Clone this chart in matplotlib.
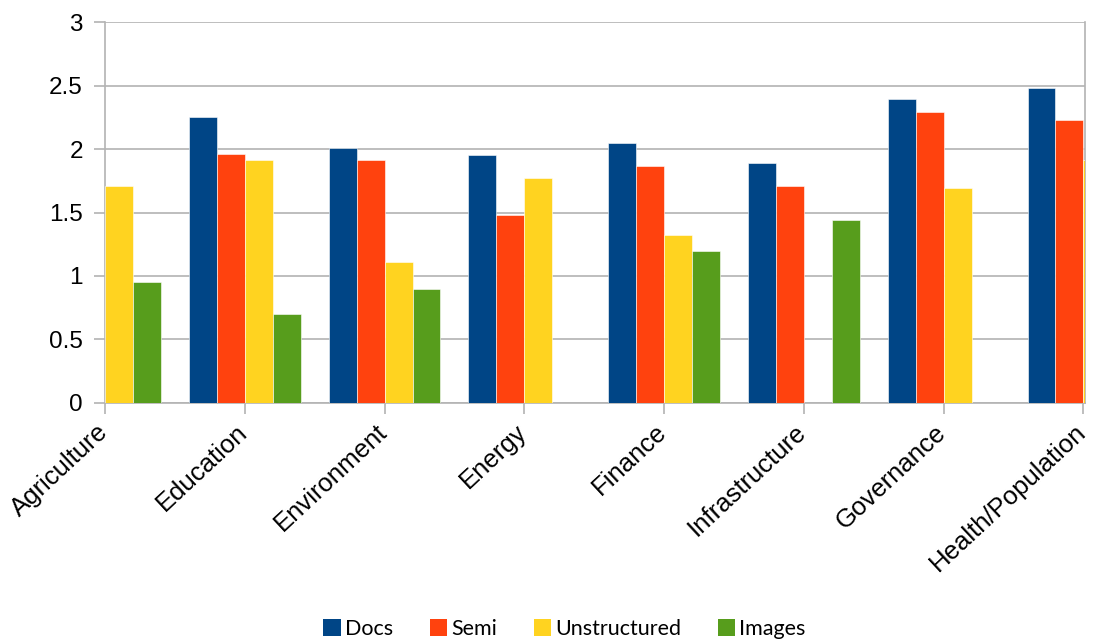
import matplotlib.pyplot as plt
import numpy as np
from matplotlib.patches import Patch
from matplotlib.transforms import ScaledTranslation

categories = ['Agriculture', 'Education', 'Environment', 'Energy', 'Finance',
              'Infrastructure', 'Governance', 'Health/Population']
series = ['Docs', 'Semi', 'Unstructured', 'Images']
docs = [np.nan, 2.25, 2.01, 1.95, 2.05, 1.89, 2.39, 2.48]
semi = [np.nan, 1.96, 1.91, 1.48, 1.87, 1.71, 2.29, 2.23]
unstructured = [1.71, 1.91, 1.11, 1.77, 1.32, np.nan, 1.69, 1.91]
images = [0.95, 0.70, 0.90, np.nan, 1.20, 1.44, np.nan, np.nan]
colors = ['#004586', '#ff420e', '#ffd320', '#579d1c']

plt.rcParams['font.family'] = ['Liberation Sans', 'DejaVu Sans']

fig = plt.figure(figsize=(10.96, 6.42), dpi=100)
ax = fig.add_axes([0.0958, 0.3723, 0.894, 0.5934])

x = np.arange(len(categories))
w = 0.2
for i, (vals, c) in enumerate(zip([docs, semi, unstructured, images], colors)):
    ax.bar(x + (i - 1.5) * w, vals, w, color=c, edgecolor='white', linewidth=0.4, zorder=3)

ax.set_xlim(0, 7.01)
ax.set_ylim(0, 3)
ax.set_yticks(np.arange(0, 3.01, 0.5))
ax.set_yticklabels(['0', '0.5', '1', '1.5', '2', '2.5', '3'], fontsize=17.5)
ax.yaxis.grid(True, color='#b3b3b3', linewidth=1.2, zorder=0)
ax.set_xticks(x)
ax.set_xticklabels([])

# category labels, nudged a little left so the last one stays in the figure
trans = ax.get_xaxis_transform() + ScaledTranslation(-9 / 100, -17 / 100, fig.dpi_scale_trans)
for xi, name in zip(x, categories):
    ax.text(xi, 0, name, transform=trans, rotation=43, ha='right', va='top',
            rotation_mode='anchor', fontsize=18.5, clip_on=False)

ax.tick_params(axis='both', colors='#b3b3b3', labelcolor='black',
               length=8, width=1.2)
ax.tick_params(axis='y', pad=8)
for s in ['left', 'bottom', 'right']:
    ax.spines[s].set_color('#b3b3b3')
    ax.spines[s].set_linewidth(1.2)
ax.spines['top'].set_visible(False)

handles = [Patch(facecolor=c, label=s) for s, c in zip(series, colors)]
fig.legend(handles=handles, loc='center', bbox_to_anchor=(0.515, 0.02), ncol=4,
           frameon=False, handlelength=0.8, handleheight=0.8, handletextpad=0.2,
           columnspacing=1.7, prop={'family': 'Lato', 'size': 15.5})

fig.savefig('out.png', dpi=100)
